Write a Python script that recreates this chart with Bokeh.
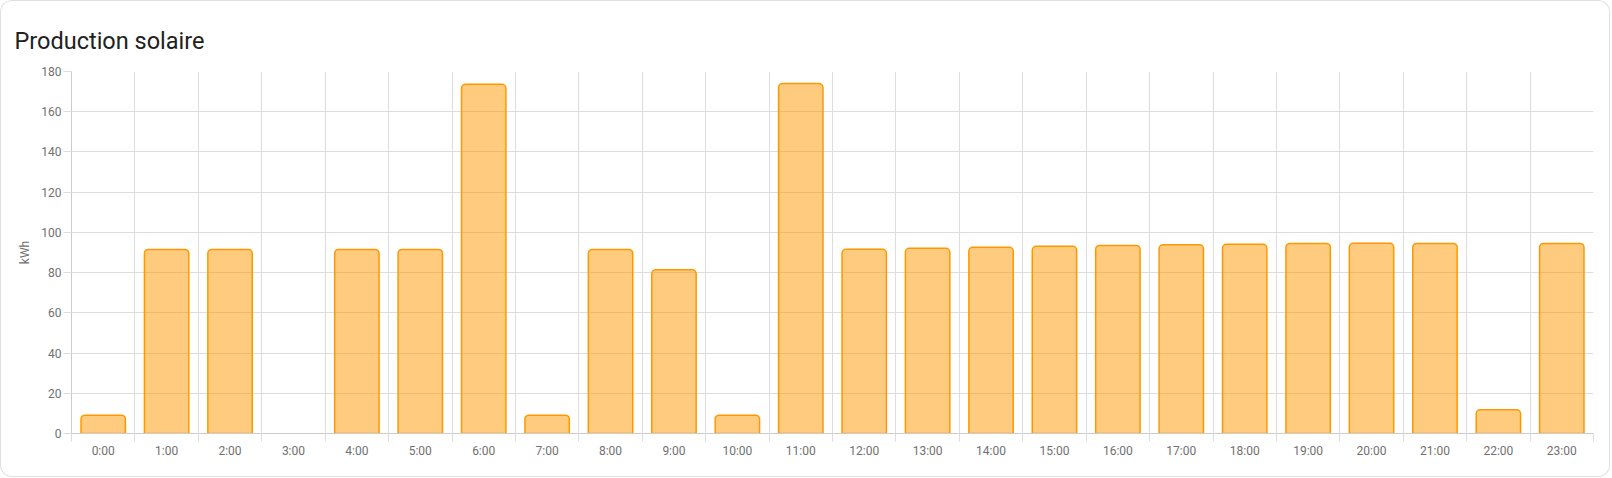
from bokeh.plotting import figure
from bokeh.models import ColumnDataSource, Range1d, FixedTicker
from bokeh.embed import file_html
from bokeh.resources import INLINE

# ---- data ----
hours = ["0:00", "1:00", "2:00", "3:00", "4:00", "5:00", "6:00", "7:00",
         "8:00", "9:00", "10:00", "11:00", "12:00", "13:00", "14:00", "15:00",
         "16:00", "17:00", "18:00", "19:00", "20:00", "21:00", "22:00", "23:00"]
production = [9.1, 91.5, 91.5, 0, 91.5, 91.5, 173.6, 9.1,
              91.5, 81.4, 9.1, 174.0, 91.6, 92.1, 92.6, 93.1,
              93.5, 93.8, 94.1, 94.5, 94.6, 94.5, 11.8, 94.5]
y_ticks = [0, 20, 40, 60, 80, 100, 120, 140, 160, 180]
title_text = "Production solaire"
y_label = "kWh"

FONT = "Roboto"
TICK_COLOR = "#707070"
GRID_COLOR = "#dddddd"

n = len(hours)
centers = [i + 0.5 for i in range(n)]
shown = [i for i in range(n) if production[i] > 0]
src = ColumnDataSource(dict(
    x=[centers[i] for i in shown],
    top=[production[i] for i in shown],
))

p = figure(width=1610, height=477, output_backend="svg", toolbar_location=None,
           x_range=Range1d(0, n), y_range=Range1d(y_ticks[0], y_ticks[-1]),
           min_border_left=71, min_border_right=17, min_border_top=71,
           min_border_bottom=44)
p.styles = {"border-radius": "12px", "box-shadow": "inset 0 0 0 1px #e0e0e0"}
p.border_fill_color = None
p.background_fill_color = "white"
p.outline_line_color = None

# title
p.title.text = title_text
p.title.align = "left"
p.title.offset = -57
p.title.standoff = 34
p.title.text_font = FONT
p.title.text_font_size = "23.5px"
p.title.text_font_style = "normal"
p.title.text_color = "#212121"

p.vbar(x="x", top="top", width=0.7, source=src,
       fill_color="#ff9800", fill_alpha=0.5,
       line_color="#ff9800", line_width=1.5,
       border_radius=(4, 4, 0, 0))

# x axis
xa = p.xaxis[0]
xa.ticker = FixedTicker(ticks=centers, minor_ticks=list(range(n + 1)))
xa.major_label_overrides = {c: h for c, h in zip(centers, hours)}
xa.major_tick_line_color = None
xa.minor_tick_line_color = GRID_COLOR
xa.minor_tick_out = 8
xa.minor_tick_in = 0
xa.axis_line_color = "#cccccc"
xa.major_label_standoff = 2
xa.major_label_text_font = FONT
xa.major_label_text_font_size = "12px"
xa.major_label_text_color = TICK_COLOR

# y axis
ya = p.yaxis[0]
ya.ticker = FixedTicker(ticks=y_ticks, minor_ticks=[])
ya.axis_line_color = "#cccccc"
ya.major_tick_line_color = GRID_COLOR
ya.major_tick_out = 8
ya.major_tick_in = 0
ya.minor_tick_line_color = None
ya.major_label_standoff = 2
ya.major_label_text_font = FONT
ya.major_label_text_font_size = "12px"
ya.major_label_text_color = TICK_COLOR
ya.axis_label = y_label
ya.axis_label_text_font = FONT
ya.axis_label_text_font_size = "12px"
ya.axis_label_text_font_style = "normal"
ya.axis_label_text_color = TICK_COLOR
ya.axis_label_standoff = 6

# grids
p.xgrid.ticker = FixedTicker(ticks=list(range(n + 1)))
p.xgrid.grid_line_color = GRID_COLOR
p.ygrid.ticker = FixedTicker(ticks=y_ticks)
p.ygrid.grid_line_color = GRID_COLOR

open("out.html", "w").write(file_html(p, INLINE))
